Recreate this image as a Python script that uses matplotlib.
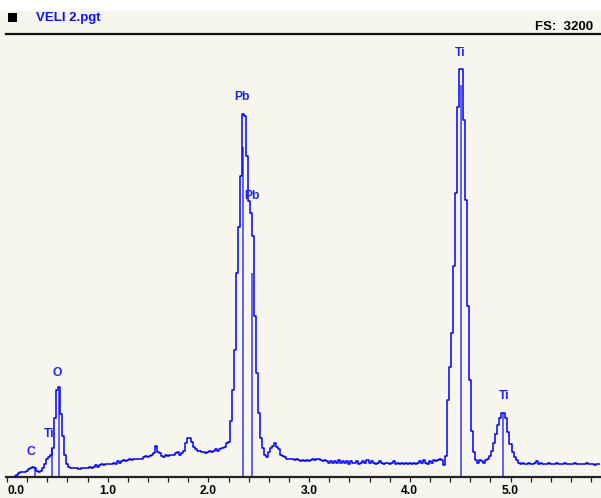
import numpy as np
import matplotlib
matplotlib.use("Agg")
import matplotlib.pyplot as plt
from matplotlib.patches import Rectangle
from matplotlib.ticker import MultipleLocator

# ---- data (EDS spectrum, counts vs keV) ----
energy_start = 0.08      # keV of first channel
channel_width = 0.02     # keV per channel
counts = [
    7, 14, 22, 29, 29, 36, 43, 51, 58, 72,            # 0.08-0.26
    65, 43, 36, 43, 58, 87, 123, 138, 159, 203,       # 0.28-0.46
    420, 623, 644, 449, 290, 159, 94, 72, 65, 58,     # 0.48-0.66
    65, 58, 51, 58, 65, 58, 65, 72, 65, 72,           # 0.68-0.86
    80, 72, 80, 87, 80, 94, 87, 87, 94, 101,          # 0.88-1.06
    94, 109, 101, 109, 116, 109, 116, 123, 116, 123,  # 1.08-1.26
    130, 123, 130, 130, 138, 145, 138, 145, 152, 167, # 1.28-1.46
    224, 174, 167, 145, 138, 159, 145, 152, 159, 152, # 1.48-1.66
    167, 174, 159, 167, 188, 239, 275, 282, 246, 217, # 1.68-1.86
    196, 188, 181, 174, 174, 167, 174, 181, 174, 188, # 1.88-2.06
    196, 181, 196, 203, 210, 239, 253, 405, 623, 912, # 2.08-2.26
    1470, 1803, 2172, 2621, 2606, 2317, 1991, 1904, 1738, 1158,  # 2.28-2.46
    746, 456, 282, 203, 152, 138, 174, 203, 224, 239, # 2.48-2.66
    217, 196, 159, 145, 138, 130, 130, 123, 123, 116, # 2.68-2.86
    123, 116, 109, 116, 109, 116, 109, 116, 123, 116, # 2.88-3.06
    130, 123, 116, 109, 116, 109, 101, 109, 101, 109, # 3.08-3.26
    101, 116, 101, 109, 101, 109, 94, 109, 101, 101,  # 3.28-3.46
    109, 94, 101, 109, 101, 116, 101, 109, 101, 94,   # 3.48-3.66
    101, 109, 101, 94, 101, 101, 94, 101, 109, 94,    # 3.68-3.86
    101, 87, 101, 94, 101, 94, 101, 94, 101, 94,      # 3.88-4.06
    101, 109, 101, 116, 101, 94, 109, 101, 116, 109,  # 4.08-4.26
    116, 123, 116, 80, 145, 550, 789, 1035, 1520, 2049,  # 4.28-4.46
    2672, 2947, 2947, 2577, 1998, 1231, 695, 326, 174, 116,  # 4.48-4.66
    101, 116, 109, 101, 116, 130, 145, 188, 239, 304, # 4.68-4.86
    376, 420, 456, 463, 420, 319, 232, 174, 138, 116, # 4.88-5.06
    101, 94, 101, 94, 87, 101, 94, 94, 101, 109,      # 5.08-5.26
    94, 101, 94, 87, 94, 101, 94, 94, 87, 101,        # 5.28-5.46
    94, 87, 94, 101, 87, 94, 87, 94, 101, 94,         # 5.48-5.66
    87, 94, 87, 94, 101, 87, 94, 87, 80, 94,          # 5.68-5.86
    87, 87,                                           # 5.88-5.90
]

# peak identification markers
marker_labels = ["C", "Ti", "O", "Pb", "Pb", "Ti", "Ti"]
marker_energy = [0.278, 0.444, 0.519, 2.341, 2.433, 4.505, 4.929]
marker_height = [72, 203, 623, 2382, 1470, 2831, 463]
label_energy = [0.238, 0.417, 0.497, 2.331, 2.430, 4.498, 4.935]
label_height = [174, 304, 746, 2744, 2027, 3063, 586]

full_scale = 3200
xticks_major = [0, 1, 2, 3, 4, 5]
xtick_labels = ["0.0", "1.0", "2.0", "3.0", "4.0", "5.0"]
file_name = "VELI 2.pgt"

# ---- figure ----
W, H = 601, 498
BG = "#F6F5EE"
fig = plt.figure(figsize=(W / 100, H / 100), dpi=100, facecolor=BG)

# white strip at the top
fig.patches.append(Rectangle((0, 1 - 11 / H), 1, 11 / H, transform=fig.transFigure,
                             facecolor="white", edgecolor="none", zorder=0))
# black square
fig.patches.append(Rectangle((8 / W, 1 - 22 / H), 9 / W, 9 / H, transform=fig.transFigure,
                             facecolor="black", edgecolor="none", zorder=2))

fig.text(36 / W, 1 - 17.5 / H, file_name, color="#1010FF", fontsize=9.5,
         fontweight="bold", family="Liberation Sans", ha="left", va="center")
fig.text(593 / W, 1 - 27.5 / H, "FS:  %d" % full_scale, color="black", fontsize=9.5,
         fontweight="bold", family="Liberation Sans", ha="right", va="center")

left_px, right_px, top_px, bottom_px = 6, 600, 34.2, 476.5
ax = fig.add_axes([left_px / W, 1 - bottom_px / H, (right_px - left_px) / W,
                   (bottom_px - top_px) / H])
ax.set_facecolor(BG)

energy = energy_start + channel_width * np.arange(len(counts))
ax.step(energy, counts, where="mid", color="#0000FF", lw=1.1, zorder=3)

for e, h in zip(marker_energy, marker_height):
    ax.vlines(e, 0, h, color="#5050FF", lw=1.4, alpha=0.9, zorder=2)
for t, e, h in zip(marker_labels, label_energy, label_height):
    ax.text(e, h, t, color="#2020FF", fontsize=8.7, fontweight="bold",
            family="Liberation Sans", ha="center", va="center", zorder=4)

x0 = (left_px - 7) / 100.7
x1 = (right_px - 7) / 100.7
ax.set_xlim(x0, x1)
ax.set_ylim(0, full_scale)

for s in ("left", "right"):
    ax.spines[s].set_visible(False)
ax.spines["top"].set_linewidth(1.6)
ax.spines["bottom"].set_linewidth(1.6)
ax.spines["top"].set_color("#111111")
ax.spines["bottom"].set_color("#222222")

ax.set_yticks([])
ax.set_xticks(xticks_major)
ax.set_xticklabels(xtick_labels, fontsize=8.7, fontweight="bold", family="Liberation Sans")
ax.xaxis.set_minor_locator(MultipleLocator(0.2))
ax.tick_params(axis="x", which="both", direction="out", length=3.6, width=0.9,
               color="#222222", pad=2.2)
ax.get_xticklabels()[0].set_horizontalalignment("left")

fig.savefig("out.png", dpi=100, facecolor=BG)
